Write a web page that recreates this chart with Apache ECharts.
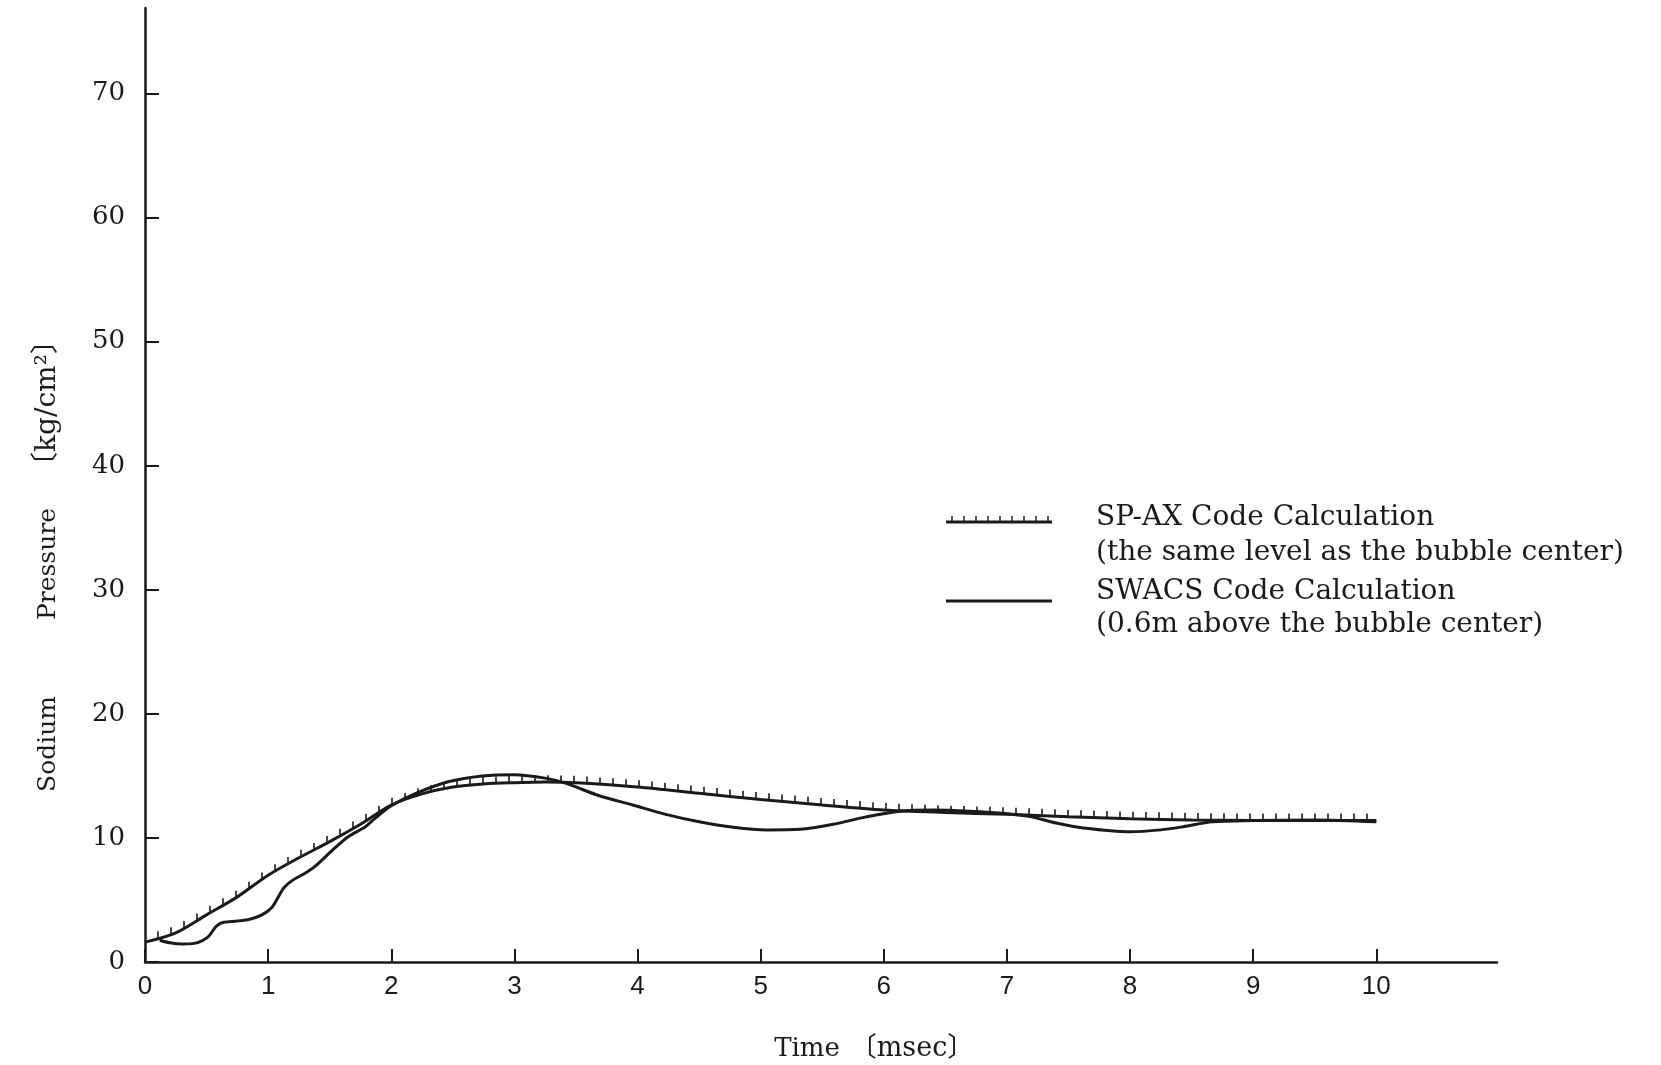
<!DOCTYPE html>
<html>
<head>
<meta charset="utf-8">
<script src="https://cdn.jsdelivr.net/npm/echarts@6/dist/echarts.min.js"></script>
<style>
html,body{margin:0;padding:0;background:#fff;}
#chart{width:1661px;height:1065px;}
</style>
</head>
<body>
<div id="chart"></div>
<script>
// ---- Data ----
var xTicks = [0,1,2,3,4,5,6,7,8,9,10];
var yTicks = [0,10,20,30,40,50,60,70];

var spaxName = 'SP-AX Code Calculation';
var spaxNote = '(the same level as the bubble center)';
var spaxTime  = [0, 0.25, 0.5, 0.75, 1.0, 1.25, 1.5, 1.75, 2.0, 2.25, 2.5, 2.75, 3.0, 3.25, 3.5, 4.0, 4.5, 5.0, 5.5, 6.0, 6.5, 7.0, 7.5, 8.0, 8.5, 9.0, 9.5, 10.0];
var spaxValue = [1.6, 2.35, 3.8, 5.25, 7.0, 8.4, 9.7, 11.1, 12.65, 13.55, 14.1, 14.35, 14.45, 14.5, 14.45, 14.1, 13.6, 13.1, 12.65, 12.25, 12.05, 11.9, 11.7, 11.55, 11.45, 11.4, 11.4, 11.4];

var swacsName = 'SWACS Code Calculation';
var swacsNote = '(0.6m above the bubble center)';
var swacsTime  = [0.12, 0.2, 0.3, 0.4, 0.47, 0.52, 0.58, 0.64, 0.75, 0.85, 0.95, 1.03, 1.08, 1.13, 1.2, 1.3, 1.38, 1.52, 1.65, 1.79, 1.87, 2.0, 2.2, 2.47, 2.74, 3.0, 3.26, 3.42, 3.69, 3.96, 4.23, 4.5, 4.78, 5.05, 5.32, 5.59, 5.86, 6.13, 6.4, 6.7, 7.0, 7.2, 7.4, 7.62, 8.0, 8.25, 8.43, 8.67, 9.0, 9.5, 10.0];
var swacsValue = [1.75, 1.55, 1.45, 1.5, 1.75, 2.1, 2.9, 3.2, 3.3, 3.45, 3.8, 4.4, 5.2, 6.0, 6.6, 7.15, 7.7, 9.0, 10.1, 10.9, 11.6, 12.6, 13.6, 14.55, 15.0, 15.1, 14.8, 14.4, 13.4, 12.66, 11.9, 11.3, 10.86, 10.65, 10.7, 11.1, 11.7, 12.15, 12.25, 12.15, 11.95, 11.7, 11.2, 10.8, 10.5, 10.65, 10.9, 11.3, 11.4, 11.45, 11.3];

var xTitleParts = ['Time', '〔msec〕'];
var yTitleParts = ['Sodium', 'Pressure', '〔kg/cm²〕'];

// ---- Build ----
function zip(a, b){ return a.map(function(v,i){ return [v, b[i]]; }); }
var spaxData = zip(spaxTime, spaxValue);
var swacsData = zip(swacsTime, swacsValue);
var INK = '#1a1a1a';
var HATCH_STEP = 13;

var chart = echarts.init(document.getElementById('chart'), null, {renderer:'canvas'});

function hatchItem(params, api){
  var i = params.dataIndex;
  if (i >= spaxData.length - 1) return null;
  var p0 = api.coord(spaxData[i]);
  var p1 = api.coord(spaxData[i+1]);
  var origin = api.coord([0,0])[0];
  var children = [];
  var k = Math.ceil((p0[0] - origin) / HATCH_STEP);
  for (var x = origin + k * HATCH_STEP; x < p1[0]; x += HATCH_STEP) {
    if (x <= origin + 2) continue;
    var f = (x - p0[0]) / (p1[0] - p0[0]);
    var y = p0[1] + f * (p1[1] - p0[1]);
    children.push({type:'line', shape:{x1:x, y1:y, x2:x, y2:y-7}, style:{stroke:INK, lineWidth:1.6}});
  }
  return {type:'group', children: children};
}

// legend hatch ticks (decoration)
var legendTicks = [];
for (var lx = 952; lx <= 1048; lx += 12) {
  legendTicks.push({type:'line', shape:{x1:lx, y1:522, x2:lx, y2:516}, style:{stroke:INK, lineWidth:1.4}});
}

var serif = '"DejaVu Serif", "Liberation Serif", "Noto Sans CJK JP", serif';
function txt(x, y, s, size, extra){
  var o = {type:'text', x:x, y:y, style:{text:s, font: size + 'px ' + serif, fill: INK, textAlign:'left', textVerticalAlign:'middle'}};
  if (extra) for (var k in extra) { if (k === 'style') { for (var j in extra.style) o.style[j] = extra.style[j]; } else o[k] = extra[k]; }
  return o;
}

chart.setOption({
  animation: false,
  backgroundColor: '#ffffff',
  grid: {left: 145, right: 164, top: 8, bottom: 103, containLabel: false},
  xAxis: {
    type: 'value', min: 0, max: 10.98,
    axisLine: {show: true, lineStyle: {color: INK, width: 2.5}},
    axisTick: {show: true, inside: true, length: 13, customValues: xTicks, lineStyle: {color: INK, width: 2}},
    axisLabel: {
      color: INK, fontFamily: '"Liberation Sans", Arial, sans-serif', fontSize: 26, margin: 12,
      customValues: xTicks
    },
    splitLine: {show: false}
  },
  yAxis: {
    type: 'value', min: 0, max: 76.9,
    axisLine: {show: true, lineStyle: {color: INK, width: 2.5}},
    axisTick: {show: true, inside: true, length: 14, customValues: yTicks, lineStyle: {color: INK, width: 2}},
    axisLabel: {
      color: INK, fontFamily: serif, fontSize: 26, margin: 20,
      customValues: yTicks
    },
    splitLine: {show: false}
  },
  graphic: [
    txt(1096, 518, spaxName, 28),
    txt(1096, 553, spaxNote, 28),
    txt(1096, 592, swacsName, 28),
    txt(1096, 625, swacsNote, 28),
    {type:'line', shape:{x1:946, y1:522, x2:1052, y2:522}, style:{stroke:INK, lineWidth:3}},
    {type:'group', children: legendTicks},
    {type:'line', shape:{x1:946, y1:601, x2:1052, y2:601}, style:{stroke:INK, lineWidth:3}},
    txt(807, 1049, xTitleParts[0], 26, {style:{textAlign:'center'}}),
    txt(912, 1049, xTitleParts[1], 27, {style:{textAlign:'center'}}),
    txt(48, 744, yTitleParts[0], 25, {rotation: Math.PI/2, style:{textAlign:'center'}}),
    txt(48, 564, yTitleParts[1], 25, {rotation: Math.PI/2, style:{textAlign:'center'}}),
    txt(48, 403, yTitleParts[2], 28, {rotation: Math.PI/2, style:{textAlign:'center'}})
  ],
  series: [
    {
      name: spaxName, type: 'line', data: spaxData, smooth: 0.3, showSymbol: false,
      lineStyle: {color: INK, width: 3}, z: 3
    },
    {
      name: spaxName + ' hatch', type: 'custom', data: spaxData, renderItem: hatchItem, z: 3, silent: true
    },
    {
      name: swacsName, type: 'line', data: swacsData, smooth: 0.3, showSymbol: false,
      lineStyle: {color: INK, width: 3}, z: 2
    }
  ]
});
</script>
</body>
</html>
